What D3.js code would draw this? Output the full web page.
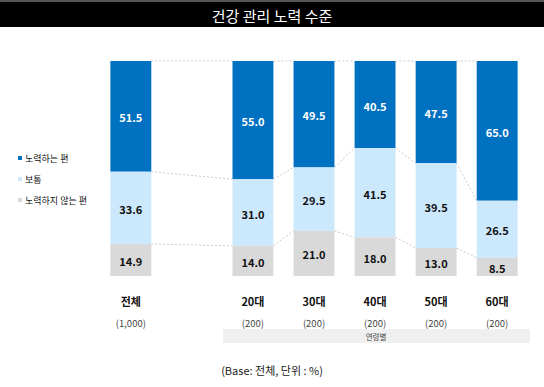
<!DOCTYPE html>
<html><head><meta charset="utf-8">
<script src="https://cdn.jsdelivr.net/npm/d3@7"></script>
<style>body{margin:0;background:#fff}svg{display:block}text{font-family:"Noto Sans CJK KR","Noto Sans",sans-serif}</style>
</head><body>
<script>
const title = "건강 관리 노력 수준";
const categories = ["전체", "", "20대", "30대", "40대", "50대", "60대"];
const bases = ["(1,000)", "", "(200)", "(200)", "(200)", "(200)", "(200)"];
const seriesNames = ["노력하는 편", "보통", "노력하지 않는 편"];
const effort = [51.5, null, 55.0, 49.5, 40.5, 47.5, 65.0];
const normal = [33.6, null, 31.0, 29.5, 41.5, 39.5, 26.5];
const noEffort = [14.9, null, 14.0, 21.0, 18.0, 13.0, 8.5];
const groupLabel = "연령별";
const footer = "(Base: 전체, 단위 : %)";
const colors = ["#0070C0", "#CCE8FC", "#D9D9D9"];
const labelColors = ["#fff", "#111", "#111"];

const W = 544, H = 387;
const svg = d3.select("body").append("svg").attr("width", W).attr("height", H);

// title bar
svg.append("rect").attr("x", 0).attr("y", 0).attr("width", W).attr("height", 2).attr("fill", "#555");
svg.append("rect").attr("x", 0).attr("y", 2).attr("width", W).attr("height", 25).attr("fill", "#000");
svg.append("text").attr("x", W/2).attr("y", 15).attr("text-anchor", "middle").attr("dominant-baseline", "central")
  .attr("fill", "#fff").attr("font-size", 15).text(title);

const x = d3.scaleBand().domain(d3.range(categories.length)).range([100, 528]).paddingInner(0.33).paddingOuter(0.17);
const y = d3.scaleLinear().domain([0, 100]).range([61, 276]);

const series = [effort, normal, noEffort];
const stacks = categories.map((c, i) => {
  if (effort[i] == null) return null;
  let acc = 0;
  return series.map((s, k) => { const y0 = acc; acc += s[i]; return {k, y0, y1: acc, v: s[i]}; });
});

// connectors
const idx = categories.map((c, i) => i).filter(i => stacks[i]);
for (let j = 0; j < idx.length - 1; j++) {
  const a = idx[j], b = idx[j+1];
  for (let k = 0; k < 3; k++) {
    const ya = k === 0 ? 0 : stacks[a][k-1].y1;
    const yb = k === 0 ? 0 : stacks[b][k-1].y1;
    svg.append("line").attr("x1", x(a) + x.bandwidth()).attr("x2", x(b))
      .attr("y1", y(ya)).attr("y2", y(yb))
      .attr("stroke", "#bbb").attr("stroke-width", 0.8).attr("stroke-dasharray", "2,2");
  }
}

idx.forEach(i => {
  stacks[i].forEach(s => {
    svg.append("rect").attr("x", x(i)).attr("width", x.bandwidth())
      .attr("y", y(s.y0)).attr("height", y(s.y1) - y(s.y0)).attr("fill", colors[s.k]);
    svg.append("text").attr("x", x(i) + x.bandwidth()/2).attr("y", (y(s.y0) + y(s.y1))/2 + 1)
      .attr("text-anchor", "middle").attr("dominant-baseline", "central")
      .attr("fill", labelColors[s.k]).attr("font-size", 11).attr("font-weight", 600)
      .text(s.v.toFixed(1));
  });
  svg.append("text").attr("x", x(i) + x.bandwidth()/2).attr("y", 301).attr("text-anchor", "middle")
    .attr("dominant-baseline", "central").attr("font-size", 11).attr("font-weight", 700).attr("fill", "#111")
    .text(categories[i]);
  svg.append("text").attr("x", x(i) + x.bandwidth()/2).attr("y", 323).attr("text-anchor", "middle")
    .attr("dominant-baseline", "central").attr("font-size", 9.5).attr("fill", "#444")
    .text(bases[i]);
});

// group box
svg.append("rect").attr("x", 223).attr("y", 329).attr("width", 307).attr("height", 14).attr("fill", "#EFEFEF");
svg.append("text").attr("x", 376).attr("y", 336).attr("text-anchor", "middle").attr("dominant-baseline", "central")
  .attr("font-size", 7.5).attr("fill", "#444").text(groupLabel);

// legend
const ly = [158, 179, 200];
seriesNames.forEach((n, k) => {
  svg.append("rect").attr("x", 18).attr("y", ly[k] - 2).attr("width", 4).attr("height", 4).attr("fill", colors[k]);
  svg.append("text").attr("x", 25).attr("y", ly[k]).attr("dominant-baseline", "central")
    .attr("font-size", 9).attr("fill", "#111").text(n);
});

svg.append("text").attr("x", 272).attr("y", 370).attr("text-anchor", "middle").attr("dominant-baseline", "central")
  .attr("font-size", 11).attr("fill", "#222").text(footer);
</script>
</body></html>
